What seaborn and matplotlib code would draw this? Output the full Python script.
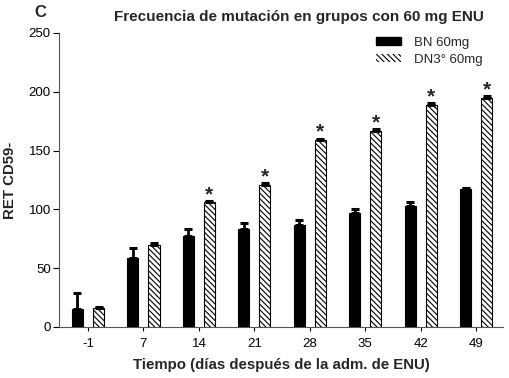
import numpy as np
import pandas as pd
import matplotlib
matplotlib.use("Agg")
import matplotlib.pyplot as plt
import seaborn as sns
from matplotlib.patches import Patch

days = ["-1", "7", "14", "21", "28", "35", "42", "49"]
bn_mean = [15, 59, 77, 83, 87, 97, 103, 117]
bn_err = [14, 8, 6, 5, 4, 3, 3, 1.5]
dn_mean = [16, 70, 106, 121, 159, 167, 189, 195]
dn_err = [1, 1, 1, 1, 1, 1, 1, 1]
signif = [False, False, True, True, True, True, True, True]
groups = ["BN 60mg", "DN3° 60mg"]

sns.set_style("ticks")
plt.rcParams['font.family'] = ['Liberation Sans', 'DejaVu Sans']
plt.rcParams['hatch.linewidth'] = 0.8

df = pd.DataFrame({
    'dia': days * 2,
    'valor': bn_mean + dn_mean,
    'grupo': [groups[0]] * len(days) + [groups[1]] * len(days),
})

fig = plt.figure(figsize=(5.1, 3.78), dpi=100)
ax = fig.add_axes([0.116, 0.135, 0.87, 0.778])

sns.barplot(data=df, x='dia', y='valor', hue='grupo', order=days,
            hue_order=groups, palette=['black', 'white'], width=0.78,
            edgecolor='black', linewidth=0.8, errorbar=None, ax=ax, legend=False)

# narrower bars with a gap between them, hatch the second group
n = len(days)
bw = 0.2
for i, p in enumerate(ax.patches[:2 * n]):
    if i < n:
        c = i - 0.19
    else:
        c = (i - n) + 0.19
        p.set_hatch('\\\\\\\\\\\\')
    p.set_x(c - bw / 2)
    p.set_width(bw)

x = np.arange(n)
ax.errorbar(x - 0.19, bn_mean, yerr=[np.zeros(n), bn_err], fmt='none',
            ecolor='black', elinewidth=2, capsize=3, capthick=2.2)
ax.errorbar(x + 0.19, dn_mean, yerr=[np.zeros(n), dn_err], fmt='none',
            ecolor='black', elinewidth=2, capsize=3, capthick=2.2)
for xi, m, e, s in zip(x, dn_mean, dn_err, signif):
    if s:
        ax.text(xi + 0.19, m + e - 2.5, '*', ha='center', va='bottom',
                fontsize=15, fontweight='bold')

ax.set_xlim(-0.52, 7.48)
ax.set_ylim(0, 250)
ax.set_yticks([0, 50, 100, 150, 200, 250])
ax.tick_params(axis='both', labelsize=9.5, colors='black', width=0.8)
ax.tick_params(axis='y', length=4, pad=2)
ax.tick_params(axis='x', length=3, pad=5)
sns.despine(ax=ax)
for s in ['left', 'bottom']:
    ax.spines[s].set_color('#555555')
    ax.spines[s].set_linewidth(0.8)

ax.set_xlabel('Tiempo (días después de la adm. de ENU)', fontsize=10.8,
              fontweight='bold', labelpad=6)
ax.set_ylabel('RET CD59-', fontsize=10.8, fontweight='bold', labelpad=8)

fig.text(0.587, 0.955, 'Frecuencia de mutación en grupos con 60 mg ENU',
         ha='center', va='center', fontsize=11, fontweight='bold')
fig.text(0.068, 0.968, 'C', ha='left', va='center', fontsize=12, fontweight='bold')

handles = [Patch(facecolor='black', edgecolor='black'),
           Patch(facecolor='white', edgecolor='black', linewidth=0,
                 hatch='\\\\\\\\\\\\')]
ax.legend(handles, groups, loc='upper right', bbox_to_anchor=(0.97, 1.01),
          frameon=False, fontsize=9.5, handlelength=1.9, handleheight=0.55,
          labelspacing=0.4, borderaxespad=0.1, handletextpad=1.0)

fig.savefig('out.png', dpi=100)
